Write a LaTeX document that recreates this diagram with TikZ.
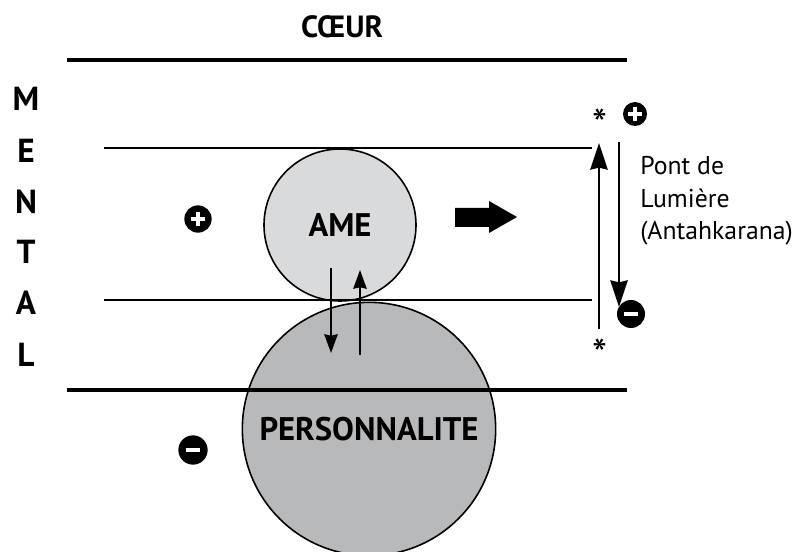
\documentclass[tikz,border=0pt]{standalone}
\usepackage{fontspec}
\setmainfont{PT Sans}
\usetikzlibrary{arrows.meta,positioning}
\definecolor{ameclair}{RGB}{217,218,220}
\definecolor{persogris}{RGB}{184,185,187}
\tikzset{
  plan/.style={line width=3pt},
  niveau/.style={line width=1.5pt},
  lettre/.style={inner sep=0pt, font=\fontsize{25}{28}\selectfont\bfseries},
  signe/.style={circle, fill=black, inner sep=0pt},
  signeplus/.style={signe, path picture={
      \draw[white, line width=2.8pt] ([xshift=-5pt]path picture bounding box.center) -- ([xshift=5pt]path picture bounding box.center);
      \draw[white, line width=2.8pt] ([yshift=-5pt]path picture bounding box.center) -- ([yshift=5pt]path picture bounding box.center);}},
  signemoins/.style={signe, path picture={
      \draw[white, line width=2.8pt] ([xshift=-5.5pt]path picture bounding box.center) -- ([xshift=5.5pt]path picture bounding box.center);}},
  etoile/.style={inner sep=0pt, font=\fontsize{32}{34}\selectfont},
  fleche/.style={line width=1.5pt, -{Stealth[length=14pt, width=10pt, inset=1pt]}},
  grandefleche/.style={line width=1.5pt, -{Stealth[length=20pt, width=13pt, inset=1.5pt]}}
}
\begin{document}
\begin{tikzpicture}[x=0.75pt, y=-0.75pt]
  \useasboundingbox (0,0) rectangle (803,552);

  % Cercles
  \node[circle, draw, line width=1.2pt, fill=persogris, minimum size=190pt, inner sep=0pt,
        font=\fontsize{24.5}{28}\selectfont\bfseries] (perso) at (369,429) {PERSONNALITE};
  \node[circle, draw, line width=1.2pt, fill=ameclair, minimum size=114pt, inner sep=0pt,
        font=\fontsize{24.5}{28}\selectfont\bfseries] (ame) at (340,225) {AME};

  % Plans
  \node[font=\fontsize{23}{26}\selectfont\bfseries, inner sep=0pt] (coeur) at (342,27) {CŒUR};
  \draw[plan] (67,60) -- (627,60);
  \draw[niveau] (104,148) -- (592,148);
  \draw[niveau] (104,300) -- (592,300);
  \draw[plan] (67,390) -- (627,390);

  % Mental
  \node[lettre] (m) at (26,99) {M};
  \node[lettre] (e) at (26,151) {E};
  \node[lettre] (n) at (26,202) {N};
  \node[lettre] (t) at (26,252) {T};
  \node[lettre] (a) at (26,303) {A};
  \node[lettre] (l) at (26,355) {L};

  % Signes
  \node[signeplus, minimum size=20.5pt] (plusame) at (198,219) {};
  \node[signemoins, minimum size=22pt] (moinsperso) at (193,450) {};
  \node[signeplus, minimum size=18pt] (plushaut) at (635,114) {};
  \node[signemoins, minimum size=21pt] (moinsbas) at (631,314) {};

  % Echanges ame / personnalite
  \coordinate (descdebut) at (331,268);
  \coordinate (descfin) at (331,353);
  \coordinate (montdebut) at (360,355);
  \coordinate (montfin) at (360,270);
  \draw[fleche] (descdebut) -- (descfin);
  \draw[fleche] (montdebut) -- (montfin);

  % Fleche pleine
  \fill (455,208) -- (489,208) -- (489,201) -- (517,217) -- (489,233) -- (489,227) -- (455,227) -- cycle;

  % Pont de lumiere
  \node[etoile] (etoilehaut) at (600,124) {*};
  \node[etoile] (etoilebas) at (600,354) {*};
  \coordinate (pontbas) at (599,329);
  \coordinate (ponthaut) at (599,143);
  \coordinate (retourhaut) at (619,142);
  \coordinate (retourbas) at (619,307);
  \draw[grandefleche] (pontbas) -- (ponthaut);
  \draw[grandefleche] (retourhaut) -- (retourbas);
  \node[anchor=north west, inner sep=0pt, align=left, font=\fontsize{19.3}{24.4}\selectfont] (pont) at (640,156)
    {Pont de\\Lumière\\(Antahkarana)};
\end{tikzpicture}
\end{document}
